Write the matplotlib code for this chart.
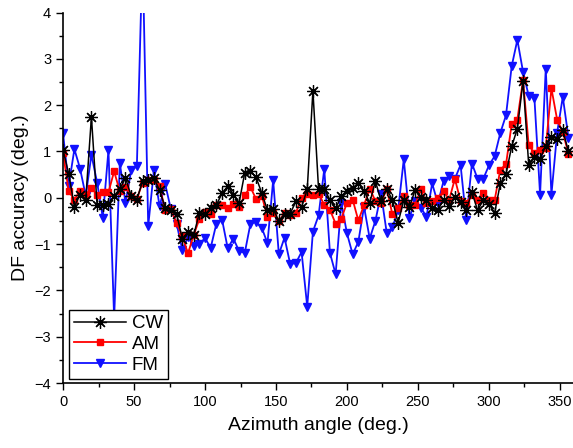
import numpy as np
import matplotlib
matplotlib.use("Agg")
import matplotlib.pyplot as plt
from matplotlib.ticker import MultipleLocator

plt.rcParams['font.family'] = ['Liberation Sans', 'DejaVu Sans']

# azimuth samples every 4 degrees
azimuth = np.arange(0, 360, 4)

cw = [1.03, 0.52, -0.19, 0.07, -0.04, 1.75, -0.16, -0.16, -0.14, 0.04,
      0.19, 0.43, 0.04, -0.04, 0.36, 0.39, 0.43, 0.16, -0.21, -0.26,
      -0.35, -0.88, -0.74, -0.81, -0.33, -0.36, -0.22, -0.16, 0.10, 0.25,
      0.07, -0.11, 0.54, 0.58, 0.44, 0.10, -0.27, -0.24, -0.50, -0.35,
      -0.34, -0.08, -0.20, 0.18, 2.31, 0.18, 0.20, -0.05, -0.23, 0.03,
      0.15, 0.21, 0.32, 0.15, -0.11, 0.36, -0.07, 0.19, -0.05, -0.54,
      -0.05, -0.20, 0.17, 0.02, -0.04, -0.21, -0.27, -0.04, -0.18, 0.02,
      -0.10, -0.26, 0.12, -0.27, -0.05, -0.13, -0.33, 0.31, 0.51, 1.11,
      1.49, 2.52, 0.71, 0.88, 0.84, 1.12, 1.31, 1.28, 1.46, 1.00]

am = [0.97, 0.14, -0.04, 0.14, 0.07, 0.21, 0.07, 0.12, 0.12, 0.57,
      0.14, 0.24, 0.04, -0.02, 0.32, 0.39, 0.38, 0.25, -0.27, -0.25,
      -0.55, -0.83, -1.20, -0.81, -0.46, -0.31, -0.34, -0.16, -0.16, -0.22,
      -0.13, -0.20, 0.06, 0.23, -0.03, 0.04, -0.41, -0.33, -0.51, -0.33,
      -0.38, -0.33, 0.00, 0.08, 0.05, 0.09, -0.15, -0.26, -0.56, -0.45,
      -0.11, -0.04, -0.49, -0.16, 0.20, -0.07, -0.11, 0.19, -0.36, -0.21,
      0.03, -0.16, -0.16, 0.19, -0.12, -0.07, 0.00, 0.14, -0.04, 0.41,
      -0.07, -0.11, 0.05, -0.05, 0.10, -0.05, -0.05, 0.61, 0.72, 1.59,
      1.69, 2.54, 1.13, 0.97, 1.04, 1.08, 2.36, 1.69, 1.42, 0.95]

fm = [1.39, 0.26, 1.05, 0.63, 0.04, 0.93, 0.33, -0.43, 1.03, -2.60,
      0.75, -0.11, 0.59, 0.68, 5.30, -0.61, 0.59, -0.18, 0.29, -0.25,
      -0.56, -1.12, -0.85, -1.04, -1.00, -0.87, -1.08, -0.56, -0.47, -1.09,
      -0.88, -1.15, -1.19, -0.56, -0.52, -0.65, -0.98, 0.38, -1.22, -0.86,
      -1.43, -1.41, -1.17, -2.35, -0.73, -0.38, 0.62, -1.19, -1.65, -0.11,
      -0.77, -1.22, -0.95, -0.19, -0.88, -0.50, 0.09, -0.76, -0.64, -0.27,
      0.83, -0.43, -0.07, -0.21, -0.41, 0.31, -0.12, 0.36, 0.46, 0.41,
      0.71, -0.48, 0.74, 0.41, 0.41, 0.70, 0.90, 1.40, 1.78, 2.84,
      3.41, 2.72, 2.20, 2.16, 0.07, 2.79, 0.07, 1.40, 2.18, 1.30]

fig = plt.figure(figsize=(5.73, 4.48), dpi=100)
ax = fig.add_axes([0.110, 0.145, 0.892, 0.827])

ax.plot(azimuth, cw, color='black', lw=1.1, marker=(8, 2, 0), ms=9,
        mew=0.9, label='CW', zorder=3)
ax.plot(azimuth, am, color='red', lw=1.3, marker='s', ms=4.5,
        label='AM', zorder=2)
ax.plot(azimuth, fm, color='#1010ff', lw=1.3, marker='v', ms=5.5,
        label='FM', zorder=1)

ax.set_xlim(0, 360)
ax.set_ylim(-4, 4)
ax.xaxis.set_major_locator(MultipleLocator(50))
ax.xaxis.set_minor_locator(MultipleLocator(25))
ax.yaxis.set_major_locator(MultipleLocator(1))
ax.yaxis.set_minor_locator(MultipleLocator(0.5))
ax.tick_params(which='both', direction='out', width=1, labelsize=10.5)
ax.tick_params(which='major', length=5)
ax.tick_params(which='minor', length=3)

ax.spines['top'].set_visible(False)
ax.spines['right'].set_visible(False)
ax.spines['left'].set_linewidth(1.2)
ax.spines['bottom'].set_linewidth(1.2)

ax.set_xlabel('Azimuth angle (deg.)', fontsize=14, labelpad=6)
ax.set_ylabel('DF accuracy (deg.)', fontsize=14, labelpad=4)

leg = ax.legend(loc='lower left', bbox_to_anchor=(0.012, 0.012), fontsize=13.5,
                frameon=True, fancybox=False, framealpha=1, edgecolor='black',
                handlelength=2.8, handletextpad=0.3, borderpad=0.25,
                labelspacing=0.2, borderaxespad=0)
leg.get_frame().set_linewidth(1.0)
leg.set_zorder(10)

fig.savefig('out.png', dpi=100)
